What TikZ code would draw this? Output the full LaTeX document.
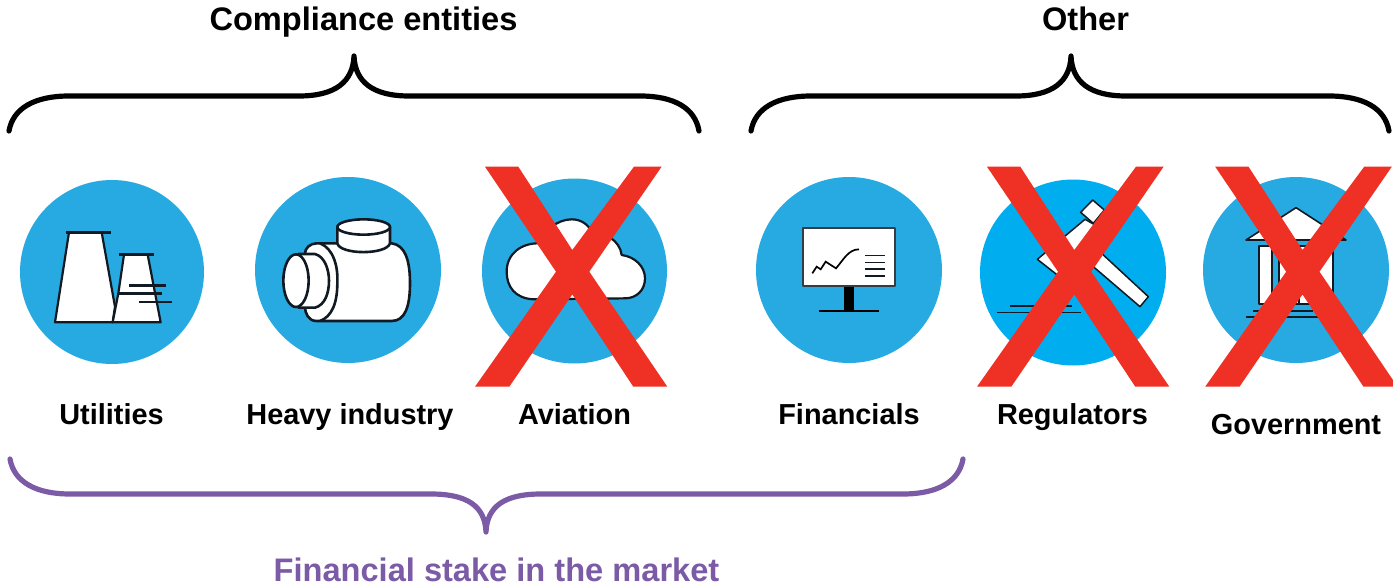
\documentclass[tikz,border=0pt]{standalone}
\usepackage{fontspec}
\setmainfont{Liberation Sans}
\definecolor{disc}{HTML}{27AAE1}
\definecolor{discb}{HTML}{00AEEF}
\definecolor{crossred}{HTML}{EE3124}
\definecolor{stake}{HTML}{7B5AA6}
\definecolor{ink}{HTML}{111A22}
\tikzset{
 headtxt/.style={font=\fontsize{32.6}{33}\selectfont\bfseries,anchor=base,inner sep=0pt},
 labtxt/.style={font=\fontsize{28.9}{29}\selectfont\bfseries,anchor=base,inner sep=0pt},
 staketxt/.style={headtxt,text=stake},
 bracek/.style={line width=5.2pt,black,line cap=round,line join=round},
 bracep/.style={line width=5.2pt,stake,line cap=round,line join=round},
 disca/.style={circle,fill=disc,inner sep=0pt,minimum size=#1},
 icon/.style={draw=ink,line width=1.5pt,fill=white,line join=round},
 iline/.style={draw=ink,line width=1.5pt},
 zoomframe/.style={x=0.33333pt,y=-0.33333pt},
 redx/.style={fill=crossred},
}
\newcommand{\crossmark}[1]{%
 \fill[redx,shift={(#1)}] (-87.3,-105) -- (-54,-105) -- (0,-21.7) -- (61.7,-105) -- (89.3,-105)
   -- (17,0) -- (95,115) -- (61,115) -- (0,22.7) -- (-63,115) -- (-97.3,115) -- (-16.3,0) -- cycle;}
\begin{document}
\begin{tikzpicture}[x=1pt,y=-1pt]
\useasboundingbox (0,0) rectangle (1393,586);
\fill[white] (0,0) rectangle (1393,586);
% braces
\draw[bracek] (9,131) .. controls (13,108) and (35,96) .. (69,96) -- (299,96)
  .. controls (335,96) and (353,82) .. (354,56) .. controls (355,82) and (373,96) .. (409,96)
  -- (640,96) .. controls (674,96) and (695,108) .. (699,131);
\draw[bracek] (751,131) .. controls (755,108) and (777,96) .. (811,96) -- (1016,96)
  .. controls (1052,96) and (1070,82) .. (1071,56) .. controls (1072,82) and (1090,96) .. (1126,96)
  -- (1329,96) .. controls (1363,96) and (1385,108) .. (1389,131);
\draw[bracep] (10,459) .. controls (14,482) and (36,494) .. (70,494) -- (431,494)
  .. controls (467,494) and (485,506) .. (486,532) .. controls (487,506) and (505,494) .. (541,494)
  -- (903,494) .. controls (937,494) and (959,482) .. (963,459);
% discs
\node[disca=184pt] (ut) at (112,272) {};
\node[disca=186pt] (hv) at (348,270) {};
\node[disca=185pt] (av) at (574.5,271) {};
\node[disca=186pt] (fi) at (849,270) {};
\node[disca=186pt,fill=discb] (re) at (1073,272.5) {};
\node[disca=186pt] (go) at (1296,270) {};
% utilities icon
\begin{scope}[zoomframe,shift={(0pt,-160pt)}]
\filldraw[icon,line width=2.2pt] (165,487) -- (207,217) -- (305,217) -- (345,440) -- (338,487) -- cycle;
\filldraw[icon,line width=2.2pt] (338,487) -- (355,400) -- (372,284) -- (443,284) -- (482,487) -- cycle;
\draw[iline,line width=2.8pt] (197,217) -- (333,217) (358,284) -- (462,284) (355,401) -- (485,401)
  (388,376) -- (498,376) (418,426) -- (515,426);
\end{scope}
% heavy industry icon
\begin{scope}[zoomframe,shift={(0pt,-160pt)}]
\filldraw[icon,line width=2.6pt] (950,250) -- (1175,250) .. controls (1215,255) and (1230,300) .. (1230,370)
  .. controls (1230,440) and (1215,483) .. (1175,483) -- (950,483)
  .. controls (925,483) and (915,460) .. (915,440) -- (915,280) .. controls (915,265) and (930,250) .. (950,250) -- cycle;
\draw[iline,line width=2.6pt] (960,250) .. controls (1000,265) and (1015,320) .. (1012,370) .. controls (1012,430) and (995,470) .. (960,483);
\filldraw[icon,line width=2.6pt] (895,282) -- (945,282) .. controls (975,290) and (987,330) .. (987,362)
  .. controls (987,400) and (975,435) .. (945,443) -- (895,443) -- cycle;
\filldraw[icon,line width=2.6pt] (888,362) ellipse [x radius=38,y radius=79];
\filldraw[icon,line width=2.6pt] (1012,200) -- (1012,250) .. controls (1020,285) and (1160,285) .. (1170,250) -- (1170,200) -- cycle;
\filldraw[icon,line width=2.6pt] (1091,201) ellipse [x radius=79,y radius=23];
\end{scope}
% aviation icon
\begin{scope}[zoomframe,shift={(460pt,-160pt)}]
\filldraw[icon,line width=2.2pt] (220,418) .. controls (165,415) and (140,380) .. (140,335)
  .. controls (140,280) and (185,248) .. (240,250) .. controls (250,215) and (290,178) .. (335,178)
  .. controls (365,178) and (385,195) .. (395,215) .. controls (430,215) and (480,240) .. (485,285)
  .. controls (525,290) and (555,320) .. (555,355) .. controls (555,390) and (530,415) .. (495,415) -- cycle;
\end{scope}
% financials icon
\begin{scope}[zoomframe,shift={(460pt,-160pt)}]
\fill[black] (1152,378) rectangle (1182,452);
\filldraw[icon,draw=ink!85,line width=2pt] (1028,205) rectangle (1306,378);
\draw[iline,black,line width=1.8pt] (1078,453) -- (1256,453);
\draw[iline,line width=1.7pt,black] (1057,340) -- (1070,320) -- (1082,328) -- (1097,305) -- (1128,325) .. controls (1150,300) and (1165,268) .. (1197,268);
\draw[iline,line width=1.6pt] (1216,286) -- (1276,286) (1216,307) -- (1276,307) (1216,327) -- (1276,327) (1216,348) -- (1276,348);
\end{scope}
% regulators icon
\begin{scope}[zoomframe,shift={(960pt,-160pt)}]
\filldraw[icon,line width=1.5pt] (232,298) -- (375,178) -- (405,195) -- (430,285) -- (565,410) -- (540,440) -- (400,320) -- (292,345) -- cycle;
\filldraw[icon,line width=1.5pt] (362,157) -- (398,120) -- (433,150) -- (400,190) -- cycle;
\draw[iline,line width=1.6pt] (150,438) -- (335,438) (112,458) -- (362,458);
\end{scope}
% government icon
\begin{scope}[zoomframe,shift={(960pt,-160pt)}]
\filldraw[icon,line width=1.6pt] (858,240) -- (1008,143) -- (1158,240) -- cycle;
\filldraw[icon,line width=1.8pt] (897,258) rectangle (1118,432);
\filldraw[icon,fill=disc,line width=1.8pt] (937,258) rectangle (958,432);
\draw[iline,line width=1.8pt] (1018,340) -- (1018,432);
\fill[disc] (1061,434) rectangle (1120,400);
\draw[iline,line width=1.8pt] (880,452) -- (1060,452) (858,470) -- (1075,470);
\end{scope}
% crosses
\crossmark{572.3,271.7}
\crossmark{1074.3,271.7}
\crossmark{1302.5,271.7}
% labels
\node[headtxt] (h1) at (363.5,31) {Compliance entities};
\node[headtxt] (h2) at (1085.5,31) {Other};
\node[labtxt] (l1) at (111.5,424) {Utilities};
\node[labtxt] (l2) at (350,424) {Heavy industry};
\node[labtxt] (l3) at (574.5,424) {Aviation};
\node[labtxt] (l4) at (849,424) {Financials};
\node[labtxt] (l5) at (1072.5,424) {Regulators};
\node[labtxt] (l6) at (1296,434) {Government};
\node[staketxt] (l7) at (496.5,581.5) {Financial stake in the market};
\end{tikzpicture}
\end{document}
